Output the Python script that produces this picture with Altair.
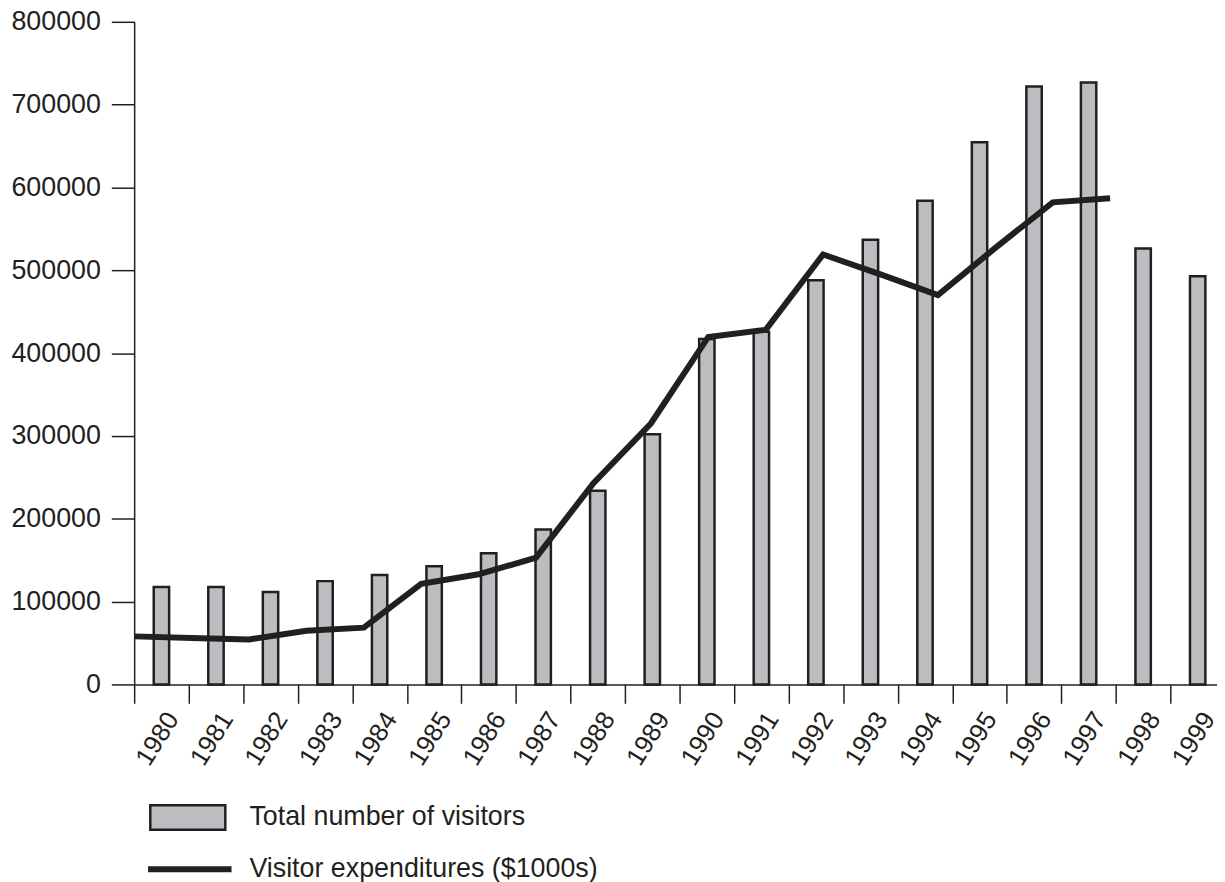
import altair as alt
import pandas as pd

years = list(range(1980, 2000))
visitors = [117500, 117500, 111500, 124700, 132000, 142700, 158300, 187000, 233800, 302000,
            417000, 425700, 488000, 537000, 584000, 654700, 721800, 726600, 526400, 492800]

exp_years = list(range(1980, 1998))
expenditures = [58000, 56000, 54300, 64800, 68500, 121500, 133000, 153000, 243000, 315000,
                419500, 428000, 519000, 495000, 470000, 527000, 582000, 587000]

bar_label = "Total number of visitors"
line_label = "Visitor expenditures ($1000s)"

INK = "#231f20"
BAR = "#bcbdc1"
FONT = "Liberation Sans"

bars_df = pd.DataFrame({"year": years, "value": visitors, "series": bar_label})
line_df = pd.DataFrame({"year": exp_years, "value": expenditures, "series": line_label})

y_enc = alt.Y(
    "value:Q",
    scale=alt.Scale(domain=[0, 800000], nice=False),
    axis=alt.Axis(
        values=list(range(0, 800001, 100000)), format="d", title=None, grid=False,
        tickSize=23, labelPadding=11, labelFontSize=27, labelFont=FONT, labelColor=INK,
        domainColor=INK, tickColor=INK, domainWidth=1.5, tickWidth=1.5,
    ),
)

bars = alt.Chart(bars_df).mark_bar(
    width=alt.RelativeBandSize(0.282), stroke=INK, strokeWidth=2.5
).encode(
    x=alt.X(
        "year:O",
        scale=alt.Scale(paddingInner=0, paddingOuter=0),
        axis=alt.Axis(
            title=None, tickBand="extent", tickSize=19, labelAngle=-58,
            labelAlign="right", labelBaseline="top", labelPadding=4,
            labelFontSize=26, labelFont=FONT, labelColor=INK,
            domainColor=INK, tickColor=INK, domainWidth=1.5, tickWidth=1.5,
        ),
    ),
    y=y_enc,
    fill=alt.Fill(
        "series:N",
        scale=alt.Scale(domain=[bar_label], range=[BAR]),
        legend=alt.Legend(
            orient="none", legendX=15, legendY=762, title=None, padding=0,
            symbolType="M-1,-0.3245H1V0.3245H-1Z", symbolSize=5700,
            symbolStrokeColor=INK, symbolStrokeWidth=2.5, symbolOpacity=1,
            labelFontSize=27, labelFont=FONT, labelColor=INK, labelOffset=23,
            labelLimit=700, labelBaseline="middle",
        ),
    ),
)

line = alt.Chart(line_df).mark_line(strokeWidth=6, strokeJoin="miter").encode(
    x=alt.X("year:Q", scale=alt.Scale(domain=[1980, 1999], nice=False, zero=False), axis=None),
    y=alt.Y("value:Q"),
    stroke=alt.Stroke(
        "series:N",
        scale=alt.Scale(domain=[line_label], range=[INK]),
        legend=alt.Legend(
            orient="none", legendX=11, legendY=808, title=None, padding=0,
            symbolType="stroke", symbolSize=7056, symbolStrokeWidth=6,
            labelFontSize=27, labelFont=FONT, labelColor=INK, labelOffset=15,
            labelLimit=700, labelBaseline="middle",
        ),
    ),
)

chart = alt.layer(bars, line).resolve_scale(
    x="independent", fill="independent", stroke="independent"
).properties(
    width=1098, height=667,
    autosize=alt.AutoSizeParams(type="none"),
    padding={"left": 127, "top": 11, "right": -8, "bottom": 196},
    background="white",
).configure_view(stroke=None)

chart.save("out.html", embed_options={"renderer": "svg", "actions": False})
